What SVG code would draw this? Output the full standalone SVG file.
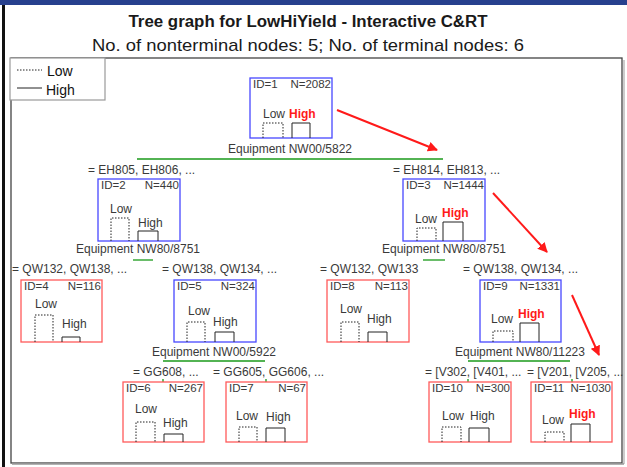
<svg xmlns="http://www.w3.org/2000/svg" width="627" height="467" viewBox="0 0 627 467">
<defs>
<marker id="ah" viewBox="0 0 10 10" refX="9" refY="5" markerWidth="5" markerHeight="5" orient="auto" markerUnits="strokeWidth">
<path d="M0,0 L10,5 L0,10 z" fill="#ff1a1a"/>
</marker>
<style>
text{font-family:"Liberation Sans",Arial,sans-serif;}
.t{font-size:12px;fill:#3a3a3a;}
.id{font-size:11.5px;fill:#3a3a3a;}
.hi{font-size:12px;fill:#ff1a1a;font-weight:bold;}
.nb{fill:#fff;stroke:#4848ff;stroke-width:1.3;}
.nr{fill:#fff;stroke:#ff5a5a;stroke-width:1.3;}
.lo{fill:none;stroke:#222;stroke-width:1;stroke-dasharray:1.5,1.5;}
.hb{fill:none;stroke:#222;stroke-width:1;}
.g{stroke:#1a9a1a;stroke-width:1.3;fill:none;}
.ar{stroke:#ff1a1a;stroke-width:2;fill:none;marker-end:url(#ah);}
</style>
</defs>
<rect x="0" y="0" width="627" height="467" fill="#fff"/>
<rect x="0" y="0" width="627" height="5" fill="#27408e"/>
<rect x="2" y="5" width="3" height="462" fill="#111"/>
<rect x="11" y="58" width="611" height="405" fill="none" stroke="#444" stroke-width="1.3"/>
<line x1="624" y1="60" x2="624" y2="464" stroke="#bbb" stroke-width="1.5"/>
<line x1="12" y1="464" x2="624" y2="464" stroke="#999" stroke-width="1.5"/>
<text x="308" y="27" text-anchor="middle" textLength="359" lengthAdjust="spacingAndGlyphs" style="font-size:16px;font-weight:bold;fill:#1a1a1a">Tree graph for LowHiYield - Interactive C&amp;RT</text>
<text x="308" y="51" text-anchor="middle" textLength="432" lengthAdjust="spacingAndGlyphs" style="font-size:17px;fill:#1a1a1a">No. of nonterminal nodes: 5; No. of terminal nodes: 6</text>
<g id="legend">
<rect x="10" y="58" width="95" height="42" fill="#fff" stroke="#999" stroke-width="1.2"/>
<line x1="17" y1="70" x2="42" y2="70" stroke="#222" stroke-dasharray="1.5,1.5"/>
<text x="47" y="76" style="font-size:14px;fill:#111">Low</text>
<line x1="17" y1="88" x2="42" y2="88" stroke="#222"/>
<text x="46" y="95" style="font-size:14px;fill:#111">High</text>
</g>
<g id="connectors">
<line class="g" x1="137" y1="159" x2="443" y2="159"/>
<line class="g" x1="133" y1="260" x2="153" y2="260"/>
<line class="g" x1="423" y1="260" x2="445" y2="260"/>
<line class="g" x1="163" y1="361" x2="265" y2="361"/>
<line class="g" x1="468" y1="361" x2="570" y2="361"/>
<line class="g" x1="163" y1="379" x2="163" y2="382"/>
<line class="g" x1="266" y1="379" x2="266" y2="382"/>
<line class="g" x1="468" y1="379" x2="468" y2="382"/>
<line class="g" x1="572" y1="379" x2="572" y2="382"/>
<line class="ar" x1="337" y1="110" x2="437" y2="150"/>
<line class="ar" x1="493" y1="193" x2="547" y2="252"/>
<line class="ar" x1="572" y1="295" x2="599" y2="355"/>
</g>
<g id="node1">
<rect class="nb" x="250" y="78" width="82" height="60"/>
<text class="id" x="253" y="88">ID=1</text><text class="id" x="331" y="88" text-anchor="end">N=2082</text>
<text class="t" x="263" y="118">Low</text><text class="hi" x="289" y="118">High</text>
<path class="lo" d="M263,138V123H283V138"/><path class="hb" d="M292,138V123H310V138"/>
<text class="t" x="290" y="153" text-anchor="middle">Equipment NW00/5822</text>
</g>
<g id="node2">
<text class="t" x="88" y="174">= EH805, EH806, ...</text>
<rect class="nb" x="98" y="179" width="82" height="62"/>
<text class="id" x="101" y="189">ID=2</text><text class="id" x="179" y="189" text-anchor="end">N=440</text>
<text class="t" x="110" y="213">Low</text><text class="t" x="138" y="227">High</text>
<path class="lo" d="M111,241V218H129V241"/><path class="hb" d="M138,241V231H158V241"/>
<text class="t" x="138" y="253" text-anchor="middle">Equipment NW80/8751</text>
</g>
<g id="node3">
<text class="t" x="393" y="174">= EH814, EH813, ...</text>
<rect class="nb" x="403" y="179" width="82" height="62"/>
<text class="id" x="406" y="189">ID=3</text><text class="id" x="484" y="189" text-anchor="end">N=1444</text>
<text class="t" x="415" y="223">Low</text><text class="hi" x="442" y="217">High</text>
<path class="lo" d="M417,241V228H436V241"/><path class="hb" d="M443,241V222H463V241"/>
<text class="t" x="444" y="253" text-anchor="middle">Equipment NW80/8751</text>
</g>
<g id="node4">
<text class="t" x="12" y="273">= QW132, QW138, ...</text>
<rect class="nr" x="21" y="280" width="81" height="62"/>
<text class="id" x="24" y="290">ID=4</text><text class="id" x="101" y="290" text-anchor="end">N=116</text>
<text class="t" x="35" y="308">Low</text><text class="t" x="62" y="328">High</text>
<path class="lo" d="M35,342V315H53V342"/><path class="hb" d="M62,342V337H80V342"/>
</g>
<g id="node5">
<text class="t" x="162" y="273">= QW138, QW134, ...</text>
<rect class="nb" x="174" y="280" width="82" height="62"/>
<text class="id" x="177" y="290">ID=5</text><text class="id" x="255" y="290" text-anchor="end">N=324</text>
<text class="t" x="188" y="315">Low</text><text class="t" x="213" y="326">High</text>
<path class="lo" d="M187,342V322H205V342"/><path class="hb" d="M215,342V332H234V342"/>
<text class="t" x="214" y="356" text-anchor="middle">Equipment NW00/5922</text>
</g>
<g id="node8">
<text class="t" x="320" y="273">= QW132, QW133</text>
<rect class="nr" x="327" y="280" width="82" height="62"/>
<text class="id" x="330" y="290">ID=8</text><text class="id" x="408" y="290" text-anchor="end">N=113</text>
<text class="t" x="340" y="313">Low</text><text class="t" x="367" y="323">High</text>
<path class="lo" d="M341,342V322H359V342"/><path class="hb" d="M368,342V332H387V342"/>
</g>
<g id="node9">
<text class="t" x="463" y="273">= QW138, QW134, ...</text>
<rect class="nb" x="480" y="280" width="81" height="62"/>
<text class="id" x="483" y="290">ID=9</text><text class="id" x="560" y="290" text-anchor="end">N=1331</text>
<text class="t" x="491" y="323">Low</text><text class="hi" x="518" y="318">High</text>
<path class="lo" d="M493,342V331H513V342"/><path class="hb" d="M520,342V323H539V342"/>
<text class="t" x="520" y="356" text-anchor="middle">Equipment NW80/11223</text>
</g>
<g id="node6">
<text class="t" x="133" y="376">= GG608, ...</text>
<rect class="nr" x="123" y="382" width="81" height="60"/>
<text class="id" x="126" y="392">ID=6</text><text class="id" x="203" y="392" text-anchor="end">N=267</text>
<text class="t" x="135" y="413">Low</text><text class="t" x="163" y="427">High</text>
<path class="lo" d="M136,442V422H155V442"/><path class="hb" d="M164,442V434H183V442"/>
</g>
<g id="node7">
<text class="t" x="213" y="376">= GG605, GG606, ...</text>
<rect class="nr" x="226" y="382" width="81" height="60"/>
<text class="id" x="229" y="392">ID=7</text><text class="id" x="306" y="392" text-anchor="end">N=67</text>
<text class="t" x="236" y="420">Low</text><text class="t" x="266" y="421">High</text>
<path class="lo" d="M239,442V427H257V442"/><path class="hb" d="M266,442V428H285V442"/>
</g>
<g id="node10">
<text class="t" x="425" y="376">= [V302, [V401, ...</text>
<rect class="nr" x="429" y="382" width="82" height="60"/>
<text class="id" x="432" y="392">ID=10</text><text class="id" x="510" y="392" text-anchor="end">N=300</text>
<text class="t" x="442" y="420">Low</text><text class="t" x="470" y="420">High</text>
<path class="lo" d="M442,442V427H461V442"/><path class="hb" d="M469,442V428H489V442"/>
</g>
<g id="node11">
<text class="t" x="527" y="376">= [V201, [V205, ...</text>
<rect class="nr" x="531" y="382" width="81" height="60"/>
<text class="id" x="534" y="392">ID=11</text><text class="id" x="611" y="392" text-anchor="end">N=1030</text>
<text class="t" x="542" y="424">Low</text><text class="hi" x="569" y="418">High</text>
<path class="lo" d="M545,442V432H564V442"/><path class="hb" d="M571,442V424H590V442"/>
</g>
</svg>
